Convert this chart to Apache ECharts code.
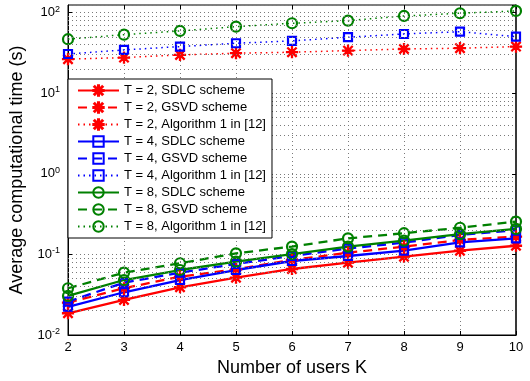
<!DOCTYPE html>
<html>
<head>
<meta charset="utf-8">
<script src="https://cdn.jsdelivr.net/npm/echarts@6/dist/echarts.min.js"></script>
<style>
html,body{margin:0;padding:0;background:#fff;}
#chart{width:530px;height:381px;}
</style>
</head>
<body>
<div id="chart"></div>
<script>
// ---- data ----
const kValues = [2, 3, 4, 5, 6, 7, 8, 9, 10];
const t2Sdlc = [0.0186, 0.0272, 0.0391, 0.0514, 0.0659, 0.0789, 0.0936, 0.111, 0.128];
const t2Gsvd = [0.0252, 0.0380, 0.0529, 0.0653, 0.0852, 0.105, 0.125, 0.151, 0.166];
const t2Alg  = [26.4, 27.6, 29.8, 31.3, 32.2, 33.7, 35.3, 36.1, 37.8];
const t4Sdlc = [0.0224, 0.0339, 0.0481, 0.0640, 0.0828, 0.0955, 0.111, 0.141, 0.158];
const t4Gsvd = [0.0259, 0.0446, 0.0593, 0.0760, 0.0955, 0.118, 0.140, 0.174, 0.199];
const t4Alg  = [30.6, 34.4, 37.8, 41.6, 44.5, 49.4, 54.2, 57.9, 50.2];
const t8Sdlc = [0.0305, 0.0481, 0.0640, 0.0812, 0.101, 0.125, 0.148, 0.178, 0.207];
const t8Gsvd = [0.0380, 0.0593, 0.0776, 0.103, 0.125, 0.158, 0.183, 0.214, 0.255];
const t8Alg  = [46.7, 53.2, 59.1, 66.8, 73.6, 79.3, 90.7, 98.0, 104.7];
const seriesNames = [
  'T = 2, SDLC scheme', 'T = 2, GSVD scheme', 'T = 2, Algorithm 1 in [12]',
  'T = 4, SDLC scheme', 'T = 4, GSVD scheme', 'T = 4, Algorithm 1 in [12]',
  'T = 8, SDLC scheme', 'T = 8, GSVD scheme', 'T = 8, Algorithm 1 in [12]'
];
const xTicks = [2, 3, 4, 5, 6, 7, 8, 9, 10];
const yMin = 0.01, yMax = 124;
const minorGridVals = [
  0.02,0.03,0.04,0.05,0.06,0.07,0.08,0.09,
  0.2,0.3,0.4,0.5,0.6,0.7,0.8,0.9,
  2,3,4,5,6,7,8,9,
  20,30,40,50,60,70,80,90
];
const xTitle = 'Number of users K';
const yTitle = 'Average computational time (s)';

// ---- styling ----
const FONT = '"Liberation Sans", Arial, Helvetica, sans-serif';
const RED = '#ff0000', BLUE = '#0000ff', GREEN = '#008000';
const STAR = 'path://M0 4.5L10 4.5L10 5.5L0 5.5Z M4.5 0L5.5 0L5.5 10L4.5 10Z M1.5 0.8L9.2 8.5L8.5 9.2L0.8 1.5Z M8.5 0.8L9.2 1.5L1.5 9.2L0.8 8.5Z';
const DASH = [9, 6];
const DOT = [1.5, 4];
const gridLine = { type: [1, 3], color: '#7a7a7a', width: 1 };

function pairs(vals) { return kValues.map((k, i) => [k, vals[i]]); }

function mk(idx, vals, color, lineType, lineWidth, marker) {
  let symbol, size, itemStyle;
  if (marker === 'star') {
    symbol = STAR; size = 11;
    itemStyle = { color: color, borderColor: color, borderWidth: 1.2 };
  } else if (marker === 'square') {
    symbol = 'rect'; size = 8;
    itemStyle = { color: 'rgba(255,255,255,0)', borderColor: color, borderWidth: 2.2 };
  } else {
    symbol = 'circle'; size = 10;
    itemStyle = { color: 'rgba(255,255,255,0)', borderColor: color, borderWidth: 2.2 };
  }
  return {
    name: seriesNames[idx],
    type: 'line',
    data: pairs(vals),
    symbol: symbol,
    symbolSize: size,
    showAllSymbol: true,
    lineStyle: { color: color, width: lineWidth, type: lineType },
    itemStyle: itemStyle,
    emphasis: { disabled: true },
    z: 3
  };
}

const series = [
  mk(0, t2Sdlc, RED, 'solid', 2.3, 'star'),
  mk(1, t2Gsvd, RED, DASH, 2.3, 'star'),
  mk(2, t2Alg, RED, DOT, 1.5, 'star'),
  mk(3, t4Sdlc, BLUE, 'solid', 2.3, 'square'),
  mk(4, t4Gsvd, BLUE, DASH, 2.3, 'square'),
  mk(5, t4Alg, BLUE, DOT, 1.5, 'square'),
  mk(6, t8Sdlc, GREEN, 'solid', 2.3, 'circle'),
  mk(7, t8Gsvd, GREEN, DASH, 2.3, 'circle'),
  mk(8, t8Alg, GREEN, DOT, 1.5, 'circle')
];
// minor log grid lines
series.push({
  type: 'line',
  data: [],
  silent: true,
  markLine: {
    silent: true,
    symbol: ['none', 'none'],
    label: { show: false },
    lineStyle: gridLine,
    emphasis: { disabled: true },
    animation: false,
    data: minorGridVals.map(v => ({ yAxis: v }))
  },
  z: 1
});

function yLabel(value) {
  const lg = Math.log10(value);
  const e = Math.round(lg);
  if (Math.abs(lg - e) > 1e-6) return '';
  return '{b|10}{s|' + e + '}';
}

const chart = echarts.init(document.getElementById('chart'), null, { renderer: 'canvas' });
chart.setOption({
  animation: false,
  backgroundColor: '#fff',
  textStyle: { fontFamily: FONT },
  grid: {
    left: 68, right: 14, top: 5, bottom: 46,
    containLabel: false,
    outerBoundsMode: 'none',
    show: true, borderColor: '#000', borderWidth: 1, backgroundColor: 'transparent'
  },
  legend: {
    orient: 'vertical',
    left: 68, top: 79,
    padding: [5, 6, 5, 9],
    itemWidth: 41,
    itemHeight: 13,
    itemGap: 4,
    backgroundColor: '#fff',
    borderColor: '#000',
    borderWidth: 1,
    borderRadius: 0,
    textStyle: { fontFamily: FONT, fontSize: 13, color: '#000' },
    data: seriesNames,
    selectedMode: false,
    z: 10
  },
  xAxis: [{
    type: 'value',
    min: xTicks[0], max: xTicks[xTicks.length - 1], interval: 1,
    name: xTitle,
    nameLocation: 'middle',
    nameGap: 24,
    nameTextStyle: { fontFamily: FONT, fontSize: 18, color: '#000' },
    axisLine: { show: true, lineStyle: { color: '#000', width: 1 } },
    axisTick: { show: true, inside: true, length: 4, lineStyle: { color: '#000' } },
    axisLabel: { fontFamily: FONT, fontSize: 13, color: '#000', margin: 6 },
    splitLine: { show: true, lineStyle: gridLine }
  }, {
    type: 'value', position: 'top',
    min: xTicks[0], max: xTicks[xTicks.length - 1], interval: 1,
    axisLine: { show: false },
    axisTick: { show: true, inside: true, length: 4, lineStyle: { color: '#000' } },
    axisLabel: { show: false },
    splitLine: { show: false }
  }],
  yAxis: [{
    type: 'log',
    logBase: 10,
    min: yMin, max: yMax,
    name: yTitle,
    nameLocation: 'middle',
    nameGap: 42,
    nameTextStyle: { fontFamily: FONT, fontSize: 18, color: '#000' },
    axisLine: { show: true, lineStyle: { color: '#000', width: 1 } },
    axisTick: { show: true, inside: true, length: 4, lineStyle: { color: '#000' } },
    axisLabel: {
      fontFamily: FONT, color: '#000', margin: 8,
      showMaxLabel: false,
      formatter: yLabel,
      rich: {
        b: { fontFamily: FONT, fontSize: 13, color: '#000' },
        s: { fontFamily: FONT, fontSize: 9, color: '#000', padding: [0, 0, 7, 0] }
      }
    },
    splitLine: { show: true, lineStyle: gridLine }
  }, {
    type: 'log', logBase: 10, position: 'right',
    min: yMin, max: yMax,
    axisLine: { show: true, lineStyle: { color: '#222', width: 1.5 } },
    axisTick: { show: true, inside: true, length: 4, lineStyle: { color: '#000' } },
    axisLabel: { show: false },
    splitLine: { show: false }
  }],
  series: series
});
</script>
</body>
</html>
